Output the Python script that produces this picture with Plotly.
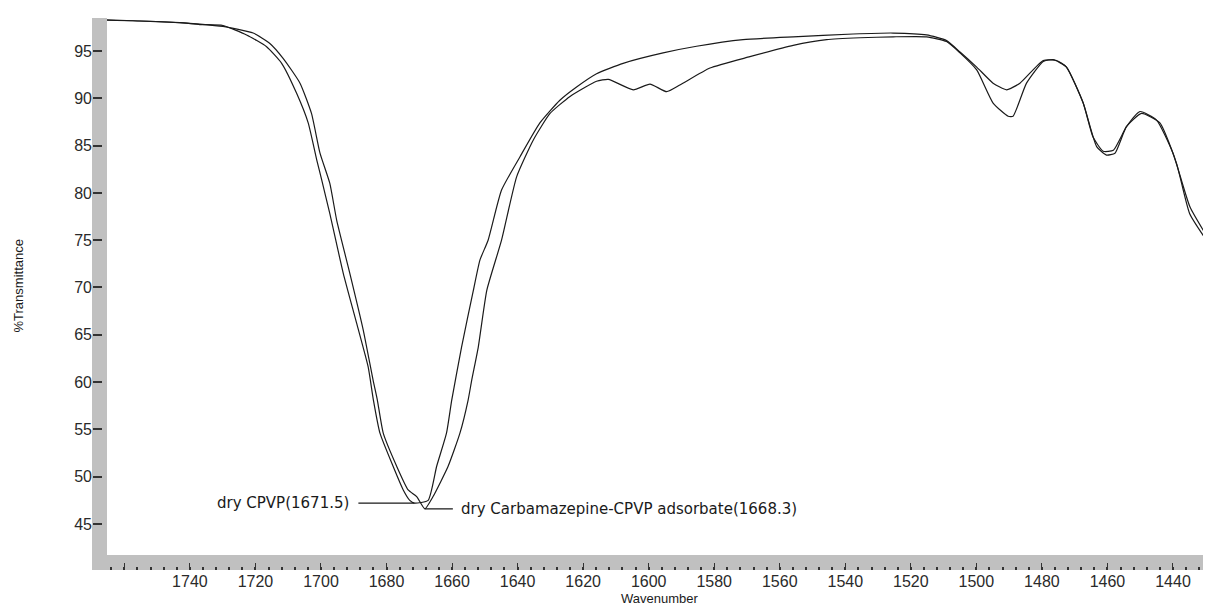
import plotly.graph_objects as go

# dry CPVP spectrum (wavenumber, %T)
cpvp_wn = [1765.3, 1757.4, 1743.1, 1737.0, 1729.9, 1722.7, 1716.6, 1712.0, 1707.4, 1703.9,
           1701.3, 1699.8, 1697.3, 1693.2, 1689.1, 1685.6, 1684.0, 1682.0, 1678.0, 1674.9,
           1672.9, 1671.5, 1667.3, 1664.7, 1661.7, 1660.1, 1657.1, 1653.5, 1651.5, 1649.0,
           1644.9, 1639.3, 1633.2, 1627.1, 1622.0, 1615.9, 1607.8, 1595.6, 1585.4, 1571.2,
           1555.9, 1537.6, 1525.4, 1515.2, 1509.1, 1505.0, 1499.9, 1494.9, 1490.8, 1486.7,
           1479.6, 1475.5, 1472.5, 1467.4, 1464.4, 1461.3, 1458.2, 1454.2, 1450.1, 1445.0,
           1440.0, 1434.8, 1428.4]
cpvp_t = [98.3, 98.2, 98.0, 97.8, 97.7, 96.7, 95.45, 93.7, 90.5, 87.4,
          83.5, 81.4, 77.8, 71.5, 66.2, 61.6, 58.1, 54.6, 51.1, 48.6,
          47.5, 47.2, 47.5, 51.1, 54.6, 58.1, 63.7, 69.7, 72.9, 75.0,
          80.3, 83.8, 87.4, 89.8, 91.2, 92.6, 93.7, 94.8, 95.5, 96.2,
          96.5, 96.8, 96.9, 96.7, 96.1, 94.9, 93.3, 91.6, 90.9, 91.6,
          94.0, 94.0, 93.3, 89.5, 85.9, 84.4, 84.5, 87.0, 88.6, 87.7,
          84.2, 78.5, 74.7]

# dry Carbamazepine-CPVP adsorbate spectrum
ads_wn = [1765.3, 1757.4, 1743.1, 1737.0, 1729.9, 1720.7, 1715.6, 1711.5, 1706.4, 1702.9,
          1700.3, 1697.3, 1695.2, 1691.2, 1687.1, 1684.1, 1682.8, 1681.0, 1676.9, 1673.4,
          1670.8, 1668.3, 1665.8, 1661.2, 1657.6, 1655.1, 1654.0, 1652.0, 1649.4, 1644.9,
          1640.3, 1635.2, 1630.1, 1624.0, 1615.9, 1612.3, 1604.7, 1599.6, 1594.5, 1590.5,
          1581.3, 1569.1, 1555.9, 1545.7, 1535.5, 1525.4, 1515.2, 1509.1, 1505.0, 1499.9,
          1494.9, 1490.3, 1488.8, 1484.7, 1479.6, 1476.6, 1472.5, 1467.4, 1463.3, 1460.3,
          1457.7, 1454.2, 1449.6, 1444.0, 1438.9, 1434.9, 1428.4]
ads_t = [98.25, 98.2, 98.0, 97.85, 97.6, 96.9, 95.8, 94.2, 91.6, 88.4,
         84.2, 81.0, 77.1, 71.5, 65.5, 60.2, 58.1, 54.6, 51.1, 48.6,
         47.9, 46.6, 47.9, 51.1, 54.6, 58.1, 60.2, 63.7, 69.7, 75.0,
         81.7, 85.6, 88.4, 90.2, 91.8, 92.0, 90.9, 91.5, 90.7, 91.4,
         93.2, 94.4, 95.6, 96.2, 96.4, 96.5, 96.5, 96.0, 94.8, 93.0,
         89.5, 88.1, 88.1, 91.6, 93.9, 94.1, 93.3, 89.5, 84.9, 84.0,
         84.2, 87.0, 88.4, 87.4, 83.1, 77.8, 74.3]

# peak labels
peak_labels = ["dry CPVP(1671.5)", "dry Carbamazepine-CPVP adsorbate(1668.3)"]
peak_wn = [1671.5, 1668.3]
peak_t = [47.2, 46.6]

x_ticks = [1760, 1740, 1720, 1700, 1680, 1660, 1640, 1620, 1600, 1580,
           1560, 1540, 1520, 1500, 1480, 1460, 1440]
x_ticktext = [""] + [str(v) for v in x_ticks[1:]]
y_ticks = [45, 50, 55, 60, 65, 70, 75, 80, 85, 90, 95]

FONT = "Arial, Liberation Sans, sans-serif"
LABEL_FONT = "DejaVu Sans, sans-serif"
GRAY = "#c0c0c0"
INK = "#1a1a1a"

# the page body has an 8 px margin, so the figure is 8 px smaller than the window
W, H = 1203, 600
ML, MT, MB = 84, 10, 38
bar = 15  # width of the gray frame bars
pw, ph = W - ML, H - MT - MB
bx, by = bar / pw, bar / ph

fig = go.Figure()

for wn, t in [(cpvp_wn, cpvp_t), (ads_wn, ads_t)]:
    fig.add_trace(go.Scatter(
        x=wn, y=t, mode="lines",
        line=dict(color=INK, width=1.2, shape="spline", smoothing=0.5),
        showlegend=False, hoverinfo="skip"
    ))

# gray frame bars on the left and bottom
fig.add_shape(type="rect", xref="paper", yref="paper", x0=0, x1=bx, y0=0, y1=1,
              fillcolor=GRAY, line_width=0, layer="below")
fig.add_shape(type="rect", xref="paper", yref="paper", x0=0, x1=1, y0=0, y1=by,
              fillcolor=GRAY, line_width=0, layer="below")

# peak annotations
fig.add_annotation(x=peak_wn[0], y=peak_t[0], text=peak_labels[0],
                   showarrow=True, arrowhead=0, arrowwidth=1.2, arrowcolor=INK,
                   ax=-64, ay=0, xanchor="right", startstandoff=8, standoff=0, borderpad=0,
                   font=dict(family=LABEL_FONT, size=15, color=INK))
fig.add_annotation(x=peak_wn[1], y=peak_t[1], text=peak_labels[1],
                   showarrow=True, arrowhead=0, arrowwidth=1.2, arrowcolor=INK,
                   ax=35, ay=0, xanchor="left", startstandoff=7, standoff=0, borderpad=0,
                   font=dict(family=LABEL_FONT, size=15, color=INK))

# axis titles
fig.add_annotation(x=(bx + 1) / 2, y=-28 / ph, xref="paper", yref="paper",
                   text="Wavenumber", showarrow=False, xanchor="center", yanchor="middle",
                   font=dict(family=FONT, size=13, color=INK))
fig.add_annotation(x=-74 / pw, y=(by + 1) / 2, xref="paper", yref="paper",
                   text="%Transmittance", showarrow=False, textangle=-90,
                   xanchor="center", yanchor="middle",
                   font=dict(family=FONT, size=13, color=INK))

fig.update_layout(
    width=W, height=H,
    margin=dict(l=ML, r=0, t=MT, b=MB),
    paper_bgcolor="white", plot_bgcolor="white",
    font=dict(family=FONT, size=16, color="#2a2a2a"),
    xaxis=dict(
        domain=[bx, 1], range=[1765.3, 1428.4], anchor="free", position=0,
        automargin=False,
        showgrid=False, zeroline=False, showline=False,
        tickvals=x_ticks, ticktext=x_ticktext,
        ticks="inside", ticklen=7, tickwidth=1, tickcolor="#333333",
        minor=dict(dtick=4, tick0=1440, ticks="inside", ticklen=3, tickwidth=1.5, tickcolor="#333333"),
        tickfont=dict(size=16),
    ),
    yaxis=dict(
        domain=[by, 1], range=[41.72, 98.49], anchor="free", position=0,
        automargin=False,
        showgrid=False, zeroline=False, showline=False,
        tickvals=y_ticks,
        ticks="inside", ticklen=9, tickwidth=2, tickcolor="#333333",
        tickfont=dict(size=16),
    ),
)

fig.write_html("out.html")
